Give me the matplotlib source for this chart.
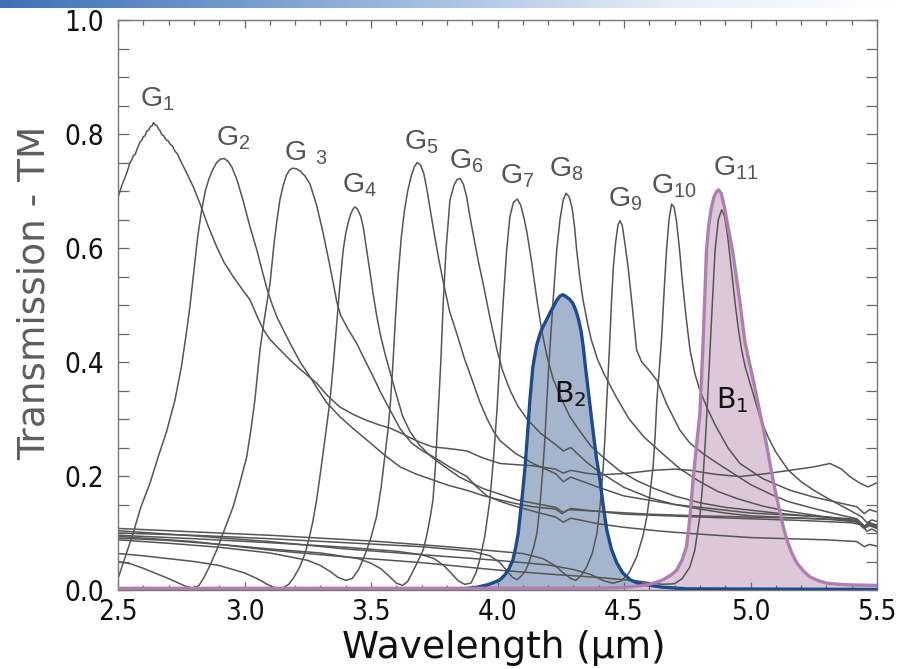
import numpy as np
import matplotlib
matplotlib.use("Agg")
import matplotlib.pyplot as plt
from matplotlib.ticker import MultipleLocator
from matplotlib.colors import LinearSegmentedColormap
from matplotlib import font_manager as fm

# ---------------- filter transmission curves (wavelength in um, TM transmission) ----------------
g1_x = [2.50, 2.517, 2.534, 2.548, 2.555, 2.560, 2.568, 2.575, 2.587, 2.594, 2.600, 2.607, 2.613,
        2.620, 2.628, 2.634, 2.640, 2.647, 2.653, 2.660, 2.666, 2.673, 2.680, 2.690, 2.698, 2.706,
        2.715, 2.725, 2.735, 2.745, 2.772, 2.80, 2.824, 2.855, 2.890, 2.92, 2.955, 2.99, 3.022,
        3.05, 3.073, 3.10, 3.128, 3.17, 3.208, 3.25, 3.285, 3.33, 3.377, 3.43, 3.48, 3.53, 3.575,
        3.62, 3.66, 3.70, 3.745, 3.81, 3.879, 3.94, 4.010, 4.07, 4.140, 4.23, 4.26, 4.29, 4.35,
        4.405, 4.52, 4.615, 4.70, 4.76, 4.86, 4.958, 5.06, 5.156, 5.25, 5.314, 5.36, 5.393, 5.43,
        5.464, 5.50]
g1_y = [0.689, 0.712, 0.731, 0.750, 0.755, 0.762, 0.764, 0.773, 0.786, 0.789, 0.795, 0.797, 0.805,
        0.806, 0.813, 0.814, 0.820, 0.816, 0.815, 0.809, 0.806, 0.799, 0.797, 0.790, 0.788, 0.782,
        0.779, 0.770, 0.765, 0.755, 0.731, 0.705, 0.678, 0.640, 0.602, 0.574, 0.550, 0.528, 0.509,
        0.480, 0.458, 0.440, 0.427, 0.408, 0.392, 0.376, 0.363, 0.340, 0.321, 0.308, 0.298, 0.290,
        0.284, 0.275, 0.266, 0.258, 0.251, 0.248, 0.244, 0.232, 0.222, 0.220, 0.218, 0.212, 0.205,
        0.210, 0.205, 0.202, 0.205, 0.210, 0.212, 0.210, 0.203, 0.199, 0.204, 0.210, 0.216, 0.222,
        0.212, 0.199, 0.188, 0.181, 0.188]

g2_x = [2.50, 2.53, 2.56, 2.59, 2.626, 2.66, 2.692, 2.725, 2.75, 2.77, 2.785, 2.80, 2.815, 2.83,
        2.845, 2.86, 2.875, 2.89, 2.905, 2.92, 2.935, 2.95, 2.97, 2.994, 3.02, 3.049, 3.07, 3.089,
        3.11, 3.128, 3.155, 3.18, 3.22, 3.259, 3.29, 3.326, 3.377, 3.43, 3.484, 3.55, 3.615, 3.68,
        3.745, 3.81, 3.879, 3.94, 4.010, 4.08, 4.140, 4.23, 4.255, 4.28, 4.4, 4.6, 4.8, 5.0, 5.2,
        5.35, 5.42, 5.45, 5.47, 5.5]
g2_y = [0.020, 0.060, 0.100, 0.145, 0.187, 0.235, 0.278, 0.333, 0.390, 0.450, 0.500, 0.560, 0.620,
        0.665, 0.700, 0.722, 0.738, 0.750, 0.756, 0.757, 0.752, 0.742, 0.720, 0.684, 0.640, 0.596,
        0.560, 0.528, 0.500, 0.479, 0.455, 0.433, 0.400, 0.374, 0.352, 0.328, 0.304, 0.283, 0.263,
        0.238, 0.216, 0.203, 0.193, 0.183, 0.175, 0.166, 0.158, 0.151, 0.146, 0.142, 0.134, 0.141,
        0.138, 0.133, 0.130, 0.128, 0.126, 0.124, 0.119, 0.108, 0.113, 0.108]

g3_x = [2.50, 2.55, 2.60, 2.65, 2.70, 2.74, 2.77, 2.80, 2.82, 2.84, 2.86, 2.89, 2.92, 2.955, 2.98,
        3.009, 3.025, 3.041, 3.061, 3.08, 3.101, 3.115, 3.127, 3.14, 3.153, 3.165, 3.178, 3.19,
        3.205, 3.22, 3.24, 3.259, 3.285, 3.311, 3.33, 3.351, 3.365, 3.38, 3.41, 3.443, 3.475,
        3.509, 3.54, 3.575, 3.615, 3.66, 3.70, 3.745, 3.81, 3.879, 3.92, 3.959, 4.02, 4.077, 4.168,
        4.23, 4.26, 4.29, 4.4, 4.5, 4.65, 4.8, 5.0, 5.15, 5.3, 5.42, 5.45, 5.47, 5.5]
g3_y = [0.050, 0.046, 0.038, 0.029, 0.020, 0.012, 0.006, 0.003, 0.008, 0.022, 0.040, 0.070, 0.105,
        0.146, 0.185, 0.234, 0.280, 0.333, 0.421, 0.480, 0.538, 0.600, 0.645, 0.685, 0.710, 0.727,
        0.737, 0.740, 0.739, 0.735, 0.726, 0.712, 0.675, 0.626, 0.585, 0.538, 0.505, 0.482, 0.457,
        0.433, 0.404, 0.374, 0.345, 0.316, 0.283, 0.258, 0.245, 0.234, 0.216, 0.199, 0.180, 0.165,
        0.154, 0.146, 0.135, 0.128, 0.119, 0.126, 0.116, 0.110, 0.103, 0.098, 0.092, 0.090, 0.088,
        0.085, 0.076, 0.080, 0.077]

g4_x = [2.50, 2.6, 2.7, 2.8, 2.9, 3.0, 3.05, 3.09, 3.12, 3.15, 3.175, 3.195, 3.219, 3.24, 3.255,
        3.27, 3.285, 3.30, 3.315, 3.327, 3.338, 3.352, 3.365, 3.378, 3.39, 3.40, 3.41, 3.42, 3.43,
        3.437, 3.447, 3.46, 3.47, 3.483, 3.497, 3.51, 3.523, 3.536, 3.555, 3.578, 3.602, 3.625,
        3.654, 3.69, 3.73, 3.773, 3.85, 3.943, 4.077, 4.23, 4.26, 4.29, 4.5, 4.8, 5.0, 5.2, 5.4,
        5.44, 5.46, 5.48, 5.5]
g4_y = [0.064, 0.060, 0.055, 0.050, 0.043, 0.030, 0.020, 0.010, 0.004, 0.003, 0.010, 0.022, 0.041,
        0.065, 0.090, 0.120, 0.158, 0.205, 0.255, 0.295, 0.333, 0.400, 0.470, 0.540, 0.596, 0.625,
        0.645, 0.660, 0.669, 0.672, 0.668, 0.655, 0.635, 0.596, 0.555, 0.515, 0.480, 0.450, 0.415,
        0.378, 0.340, 0.305, 0.278, 0.255, 0.237, 0.222, 0.198, 0.178, 0.158, 0.145, 0.136, 0.143,
        0.133, 0.128, 0.125, 0.122, 0.118, 0.114, 0.103, 0.107, 0.102]

g5_x = [2.50, 2.7, 2.9, 3.1, 3.25, 3.30, 3.34, 3.37, 3.40, 3.425, 3.45, 3.47, 3.483, 3.50, 3.522,
        3.54, 3.555, 3.567, 3.577, 3.587, 3.597, 3.607, 3.62, 3.632, 3.645, 3.66, 3.672, 3.683,
        3.695, 3.708, 3.72, 3.733, 3.75, 3.768, 3.786, 3.81, 3.839, 3.87, 3.904, 3.93, 3.959, 3.985,
        4.01, 4.07, 4.14, 4.23, 4.26, 4.29, 4.4, 4.5, 4.7, 5.0, 5.3, 5.42, 5.45, 5.47, 5.5]
g5_y = [0.088, 0.082, 0.075, 0.065, 0.052, 0.043, 0.032, 0.022, 0.017, 0.020, 0.035, 0.055, 0.070,
        0.092, 0.129, 0.180, 0.236, 0.280, 0.330, 0.400, 0.480, 0.550, 0.620, 0.665, 0.700, 0.728,
        0.743, 0.750, 0.746, 0.732, 0.705, 0.670, 0.625, 0.580, 0.540, 0.490, 0.450, 0.405, 0.363,
        0.330, 0.300, 0.278, 0.262, 0.240, 0.222, 0.204, 0.190, 0.198, 0.180, 0.165, 0.150, 0.135,
        0.128, 0.124, 0.112, 0.118, 0.114]

g6_x = [2.50, 2.7, 2.9, 3.1, 3.3, 3.45, 3.50, 3.54, 3.57, 3.60, 3.625, 3.645, 3.665, 3.685, 3.706,
        3.72, 3.735, 3.745, 3.755, 3.766, 3.776, 3.786, 3.797, 3.812, 3.828, 3.84, 3.852, 3.865,
        3.878, 3.891, 3.91, 3.925, 3.943, 3.97, 3.998, 4.02, 4.049, 4.08, 4.12, 4.17, 4.23, 4.26,
        4.29, 4.35, 4.4, 4.5, 4.6, 4.7, 4.8, 4.9, 5.0, 5.15, 5.3, 5.42, 5.45, 5.47, 5.5]
g6_y = [0.091, 0.087, 0.080, 0.072, 0.065, 0.055, 0.047, 0.037, 0.025, 0.012, 0.008, 0.015, 0.032,
        0.050, 0.070, 0.095, 0.130, 0.158, 0.220, 0.316, 0.400, 0.509, 0.600, 0.684, 0.710, 0.720,
        0.722, 0.712, 0.690, 0.655, 0.610, 0.575, 0.538, 0.478, 0.421, 0.385, 0.351, 0.323, 0.298,
        0.275, 0.255, 0.244, 0.250, 0.225, 0.208, 0.180, 0.162, 0.150, 0.142, 0.135, 0.130, 0.127,
        0.124, 0.120, 0.109, 0.114, 0.110]

g7_x = [2.50, 2.8, 3.1, 3.4, 3.6, 3.7, 3.75, 3.79, 3.82, 3.845, 3.87, 3.895, 3.915, 3.93, 3.95,
        3.97, 3.985, 3.998, 4.01, 4.023, 4.036, 4.049, 4.063, 4.078, 4.092, 4.105, 4.117, 4.135,
        4.156, 4.175, 4.196, 4.22, 4.25, 4.285, 4.32, 4.37, 4.42, 4.48, 4.55, 4.62, 4.7, 4.8, 4.9,
        5.0, 5.1, 5.2, 5.3, 5.42, 5.45, 5.47, 5.5]
g7_y = [0.096, 0.090, 0.083, 0.075, 0.068, 0.062, 0.055, 0.042, 0.028, 0.016, 0.010, 0.012, 0.030,
        0.053, 0.095, 0.158, 0.235, 0.316, 0.410, 0.509, 0.595, 0.655, 0.680, 0.686, 0.675, 0.652,
        0.626, 0.575, 0.509, 0.455, 0.409, 0.370, 0.338, 0.305, 0.282, 0.252, 0.232, 0.210, 0.192,
        0.178, 0.165, 0.153, 0.145, 0.140, 0.135, 0.131, 0.128, 0.122, 0.108, 0.115, 0.108]

g8_x = [2.50, 2.8, 3.1, 3.4, 3.7, 3.9, 3.97, 4.01, 4.04, 4.06, 4.077, 4.095, 4.112, 4.128, 4.143,
        4.156, 4.168, 4.18, 4.188, 4.195, 4.205, 4.22, 4.234, 4.247, 4.26, 4.271, 4.283, 4.295,
        4.305, 4.313, 4.325, 4.338, 4.355, 4.37, 4.395, 4.42, 4.47, 4.52, 4.58, 4.65, 4.72, 4.8,
        4.87, 4.95, 5.05, 5.15, 5.3, 5.42, 5.45, 5.47, 5.5]
g8_y = [0.100, 0.096, 0.090, 0.083, 0.076, 0.068, 0.060, 0.048, 0.032, 0.022, 0.018, 0.025, 0.035,
        0.053, 0.075, 0.100, 0.150, 0.216, 0.270, 0.333, 0.410, 0.509, 0.596, 0.650, 0.685, 0.696,
        0.690, 0.670, 0.635, 0.596, 0.550, 0.509, 0.470, 0.440, 0.405, 0.380, 0.338, 0.300, 0.268,
        0.240, 0.213, 0.190, 0.173, 0.160, 0.147, 0.138, 0.128, 0.122, 0.109, 0.115, 0.110]

g9_x = [2.50, 2.8, 3.1, 3.5, 3.8, 4.1, 4.18, 4.23, 4.26, 4.29, 4.31, 4.33, 4.353, 4.375, 4.393,
        4.406, 4.418, 4.425, 4.432, 4.442, 4.451, 4.458, 4.467, 4.476, 4.484, 4.493, 4.503, 4.516,
        4.53, 4.54, 4.55, 4.57, 4.60, 4.63, 4.67, 4.72, 4.76, 4.81, 4.87, 4.93, 5.0, 5.08, 5.15,
        5.25, 5.35, 5.42, 5.45, 5.47, 5.5]
g9_y = [0.108, 0.102, 0.096, 0.086, 0.076, 0.064, 0.055, 0.042, 0.030, 0.020, 0.017, 0.025, 0.041,
        0.065, 0.100, 0.150, 0.216, 0.270, 0.333, 0.420, 0.509, 0.567, 0.610, 0.640, 0.648, 0.640,
        0.610, 0.567, 0.509, 0.465, 0.421, 0.400, 0.385, 0.368, 0.325, 0.281, 0.258, 0.240, 0.222,
        0.205, 0.185, 0.168, 0.155, 0.143, 0.132, 0.125, 0.112, 0.118, 0.112]

g10_x = [2.50, 2.8, 3.1, 3.4, 3.7, 4.0, 4.2, 4.3, 4.37, 4.42, 4.456, 4.49, 4.52, 4.55, 4.575, 4.59,
         4.603, 4.615, 4.623, 4.63, 4.64, 4.649, 4.658, 4.668, 4.678, 4.688, 4.698, 4.708, 4.72,
         4.73, 4.745, 4.761, 4.78, 4.80, 4.83, 4.86, 4.91, 4.958, 5.05, 5.156, 5.25, 5.35, 5.42,
         5.45, 5.47, 5.5]
g10_y = [0.104, 0.095, 0.085, 0.072, 0.062, 0.052, 0.044, 0.036, 0.027, 0.016, 0.012, 0.016, 0.030,
         0.058, 0.095, 0.128, 0.170, 0.216, 0.270, 0.333, 0.390, 0.445, 0.520, 0.596, 0.650, 0.677,
         0.672, 0.645, 0.595, 0.545, 0.480, 0.421, 0.380, 0.350, 0.318, 0.290, 0.250, 0.222, 0.195,
         0.175, 0.163, 0.153, 0.146, 0.134, 0.141, 0.137]

g11_x = [2.50, 2.8, 3.1, 3.4, 3.7, 4.0, 4.2, 4.4, 4.55, 4.65, 4.70, 4.73, 4.76, 4.78, 4.80, 4.81,
         4.82, 4.83, 4.84, 4.85, 4.86, 4.873, 4.886, 4.898, 4.91, 4.925, 4.94, 4.953, 4.965, 4.98,
         5.0, 5.02, 5.04, 5.07, 5.1, 5.15, 5.2, 5.25, 5.3, 5.35, 5.4, 5.44, 5.46, 5.48, 5.5]
g11_y = [0.094, 0.085, 0.070, 0.058, 0.048, 0.035, 0.028, 0.022, 0.016, 0.010, 0.011, 0.020, 0.040,
         0.070, 0.130, 0.180, 0.250, 0.330, 0.421, 0.510, 0.596, 0.650, 0.667, 0.655, 0.620, 0.560,
         0.500, 0.455, 0.421, 0.390, 0.360, 0.330, 0.300, 0.268, 0.242, 0.210, 0.190, 0.175, 0.162,
         0.150, 0.138, 0.128, 0.118, 0.123, 0.120]

# broadband filters
b1_x = [2.50, 4.40, 4.484, 4.54, 4.591, 4.625, 4.654, 4.685, 4.709, 4.73, 4.747, 4.76, 4.773, 4.787,
        4.80, 4.806, 4.812, 4.819, 4.826, 4.835, 4.846, 4.856, 4.866, 4.874, 4.885, 4.897, 4.912,
        4.929, 4.943, 4.957, 4.968, 4.978, 4.994, 5.010, 5.024, 5.038, 5.052, 5.065, 5.077, 5.089,
        5.103, 5.117, 5.13, 5.144, 5.163, 5.184, 5.21, 5.235, 5.27, 5.302, 5.35, 5.393, 5.50]
b1_y = [0.003, 0.003, 0.004, 0.006, 0.009, 0.013, 0.018, 0.026, 0.035, 0.053, 0.076, 0.125, 0.193,
        0.255, 0.310, 0.370, 0.427, 0.510, 0.596, 0.640, 0.672, 0.690, 0.699, 0.702, 0.695, 0.672,
        0.635, 0.596, 0.552, 0.509, 0.470, 0.435, 0.402, 0.370, 0.340, 0.310, 0.280, 0.251, 0.222,
        0.193, 0.163, 0.135, 0.110, 0.088, 0.065, 0.047, 0.033, 0.023, 0.016, 0.012, 0.010, 0.009,
        0.008]

b2_x = [2.50, 3.80, 3.86, 3.919, 3.96, 3.99, 4.010, 4.03, 4.045, 4.061, 4.072, 4.082, 4.089, 4.099,
        4.109, 4.118, 4.128, 4.140, 4.155, 4.170, 4.180, 4.195, 4.207, 4.222, 4.235, 4.248, 4.259,
        4.27, 4.285, 4.298, 4.31, 4.32, 4.33, 4.338, 4.348, 4.36, 4.377, 4.39, 4.405, 4.418, 4.432,
        4.45, 4.472, 4.495, 4.524, 4.555, 4.591, 4.65, 4.75, 5.50]
b2_y = [0.000, 0.000, 0.002, 0.005, 0.009, 0.014, 0.018, 0.027, 0.037, 0.053, 0.075, 0.100, 0.128,
        0.170, 0.216, 0.270, 0.333, 0.392, 0.430, 0.452, 0.462, 0.475, 0.486, 0.498, 0.509, 0.516,
        0.518, 0.515, 0.510, 0.503, 0.490, 0.475, 0.455, 0.430, 0.390, 0.345, 0.281, 0.235, 0.193,
        0.148, 0.105, 0.072, 0.047, 0.030, 0.018, 0.012, 0.009, 0.005, 0.002, 0.001]

narrow_x = [g1_x, g2_x, g3_x, g4_x, g5_x, g6_x, g7_x, g8_x, g9_x, g10_x, g11_x]
narrow_y = [g1_y, g2_y, g3_y, g4_y, g5_y, g6_y, g7_y, g8_y, g9_y, g10_y, g11_y]

# curve labels: text, anchor (um, T)
g_labels = [r"$\mathregular{G_{1}}$", r"$\mathregular{G_{2}}$", r"$\mathregular{G\ {}_{3}}$",
            r"$\mathregular{G_{4}}$", r"$\mathregular{G_{5}}$", r"$\mathregular{G_{6}}$",
            r"$\mathregular{G_{7}}$", r"$\mathregular{G_{8}}$", r"$\mathregular{G_{9}}$",
            r"$\mathregular{G_{10}}$", r"$\mathregular{G_{11}}$"]
g_label_x = [2.585, 2.888, 3.158, 3.387, 3.632, 3.810, 4.008, 4.202, 4.435, 4.607, 4.850]
g_label_y = [0.849, 0.779, 0.754, 0.698, 0.772, 0.740, 0.714, 0.725, 0.672, 0.696, 0.728]

b_labels = [r"$\mathregular{B_{2}}$", r"$\mathregular{B_{1}}$"]
b_label_x = [4.222, 4.862]
b_label_y = [0.330, 0.319]

x_ticks = [2.5, 3.0, 3.5, 4.0, 4.5, 5.0, 5.5]
y_ticks = [0.0, 0.2, 0.4, 0.6, 0.8, 1.0]


def narrow_font():
    """Pick a condensed sans face for the tick numbers if one is installed."""
    wanted = ["liberationsansnarrow-regular", "dejavusanscondensed.ttf",
              "liberationsansnarrow"]
    files = [f.fname for f in fm.fontManager.ttflist]
    for key in wanted:
        for path in files:
            if key in path.lower().replace(" ", "").replace("_", ""):
                return fm.FontProperties(fname=path), True
    return fm.FontProperties(family=["Liberation Sans", "DejaVu Sans"]), False


# ---------------- drawing ----------------
W, H = 898, 669
fig = plt.figure(figsize=(W / 100, H / 100), dpi=100)

# header gradient strip
bar = fig.add_axes([0, 1 - 8 / H, 1, 8 / H])
grad = np.linspace(0, 1, 256)
hdr = LinearSegmentedColormap.from_list("hdr", ["#3f70b8", "#6f97cc", "#a9c3e3", "#e6eef8", "#ffffff"])
bar.imshow(grad[None, :], aspect="auto", cmap=hdr, extent=[0, 1, 0, 1])
bar.set_axis_off()

ax = fig.add_axes([118 / W, 79 / H, 759 / W, 570 / H])

ax.fill_between(b2_x, b2_y, 0, color="#a5b5ce", lw=0, zorder=1)
ax.fill_between(b1_x, b1_y, 0, color="#ddc8da", lw=0, zorder=1.1)

for xs, ys in zip(narrow_x, narrow_y):
    ax.plot(xs, ys, color="#555555", lw=1.1, zorder=2, solid_joinstyle="round")

ax.plot(b2_x, b2_y, color="#1e4b8c", lw=2.4, zorder=4, solid_capstyle="round")
ax.plot(b1_x, b1_y, color="#b07fb0", lw=2.4, zorder=4.1, solid_capstyle="round")

for t, xx, yy in zip(g_labels, g_label_x, g_label_y):
    ax.text(xx, yy, t, fontsize=20.5, color="#555555", family="Liberation Sans",
            ha="left", va="baseline", zorder=5)
for t, xx, yy in zip(b_labels, b_label_x, b_label_y):
    ax.text(xx, yy, t, fontsize=20.5, color="#111111", family="DejaVu Sans",
            ha="left", va="baseline", zorder=5)

ax.set_xlim(2.5, 5.5)
ax.set_ylim(0.0, 1.0)
ax.set_xticks(x_ticks)
ax.set_yticks(y_ticks)
ax.set_xticklabels([f"{v:.1f}" for v in x_ticks])
ax.set_yticklabels([f"{v:.1f}" for v in y_ticks])
ax.xaxis.set_minor_locator(MultipleLocator(0.1))
ax.yaxis.set_minor_locator(MultipleLocator(0.05))

tick_fp, is_narrow = narrow_font()
tick_size = 20 if is_narrow else 18
ax.tick_params(which="both", direction="in", top=True, right=True, color="#666666", width=0.9)
ax.tick_params(axis="x", which="major", length=6, pad=6)
ax.tick_params(axis="x", which="minor", length=3.6)
ax.tick_params(axis="y", which="both", length=8)
ax.tick_params(axis="y", which="major", pad=10)
for lab in ax.get_xticklabels() + ax.get_yticklabels():
    lab.set_fontproperties(tick_fp)
    lab.set_fontsize(tick_size)
    lab.set_color("#111111")
for s in ax.spines.values():
    s.set_color("#777777")
    s.set_linewidth(1.0)

fig.text(504 / W, (H - 658) / H, "Wavelength (µm)", fontsize=27, color="#111111",
         family="DejaVu Sans", ha="center", va="baseline")
fig.text(35 / W, (H - 293) / H, "Transmission - TM", fontsize=27, color="#5e5e5e",
         family="DejaVu Sans", ha="center", va="center", rotation=90)

fig.savefig("out.png", dpi=100)
